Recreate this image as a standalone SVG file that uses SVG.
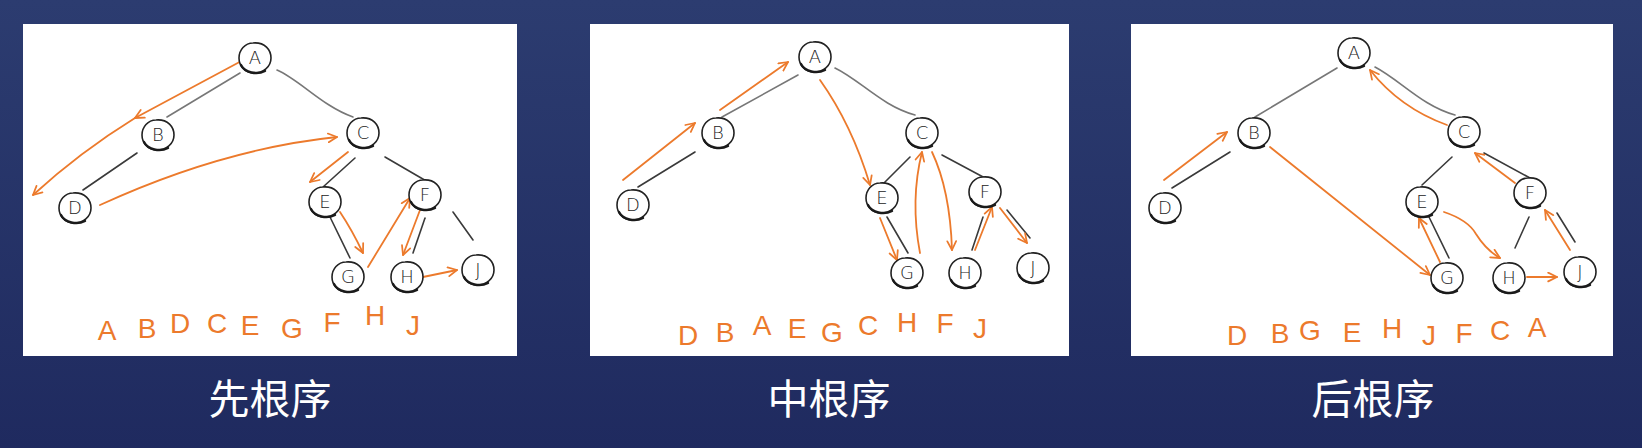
<svg xmlns="http://www.w3.org/2000/svg" width="1642" height="448" viewBox="0 0 1642 448">
<defs>
<linearGradient id="bg" x1="0" y1="0" x2="0" y2="1">
<stop offset="0" stop-color="#2c3c70"/>
<stop offset="1" stop-color="#1f2a5f"/>
</linearGradient>
<marker id="ah" viewBox="0 0 10 10" refX="9" refY="5" markerWidth="11" markerHeight="11" markerUnits="userSpaceOnUse" orient="auto">
<path d="M1,1 L9,5 L1,9" fill="none" stroke="#ec7a2c" stroke-width="1.6" stroke-linecap="round" stroke-linejoin="round"/>
</marker>
<g id="blob">
<path d="M-2,-15 C10,-16 16,-8 16,0 C16,9 8,15 -1,15 C-10,15 -16,8 -16,0 C-16,-8 -10,-15 -2,-15" fill="#fff" stroke="#222" stroke-width="1.6"/>
<path d="M-14,7 C-10,15 2,17 10,13" fill="none" stroke="#1a1a1a" stroke-width="2.4" stroke-linecap="round"/>
</g>
</defs>
<style>
.panel{fill:#fff}
.edge{fill:none;stroke:#3a3a3a;stroke-width:1.6;stroke-linecap:round}
.edge.light{stroke:#777}
.ord{fill:none;stroke:#ec7a2c;stroke-width:1.8;stroke-linecap:round;marker-end:url(#ah)}
.lbl{font-family:"DejaVu Sans","Liberation Sans",sans-serif;font-weight:300;font-size:18px;fill:#222;text-anchor:middle}
.seq{font-family:"Liberation Sans",Arial,sans-serif;font-size:28px;fill:#ec7a2c;text-anchor:middle}
.cap{font-family:"Noto Sans CJK SC","Noto Sans",sans-serif;font-size:41px;fill:#fff;text-anchor:middle}
</style>
<rect width="1642" height="448" fill="url(#bg)"/>
<rect class="panel" x="23" y="24" width="494" height="332"/>
<rect class="panel" x="590" y="24" width="479" height="332"/>
<rect class="panel" x="1131" y="24" width="482" height="332"/>

<!-- Panel 1: pre-order -->
<g id="p1-connectors">
<path class="edge light" d="M240,73 L167,117"/>
<path class="edge light" d="M277,70 C300,80 322,106 353,117"/>
<path class="edge" d="M137,153 L83,190"/>
<path class="edge" d="M355,158 L323,187"/>
<path class="edge" d="M385,157 L428,182"/>
<path class="edge" d="M330,217 L350,258"/>
<path class="edge" d="M425,218 L413,253"/>
<path class="edge" d="M453,212 L473,240"/>
<path class="ord" d="M247,58 L135,118"/>
<path class="ord" d="M135,118 Q80,152 33,195"/>
<path class="ord" d="M100,205 Q222,149 337,137"/>
<path class="ord" d="M348,152 L310,182"/>
<path class="ord" d="M340,212 Q352,230 363,253"/>
<path class="ord" d="M368,267 L410,198"/>
<path class="ord" d="M420,210 L403,255"/>
<path class="ord" d="M423,277 L457,270"/>
</g>
<g id="p1-A"><use href="#blob" transform="translate(255,58)"/><text class="lbl" x="255" y="64">A</text></g>
<g id="p1-B"><use href="#blob" transform="translate(158,135)"/><text class="lbl" x="158" y="141">B</text></g>
<g id="p1-C"><use href="#blob" transform="translate(363,133)"/><text class="lbl" x="363" y="139">C</text></g>
<g id="p1-D"><use href="#blob" transform="translate(75,208)"/><text class="lbl" x="75" y="214">D</text></g>
<g id="p1-E"><use href="#blob" transform="translate(325,202)"/><text class="lbl" x="325" y="208">E</text></g>
<g id="p1-F"><use href="#blob" transform="translate(425,195)"/><text class="lbl" x="425" y="201">F</text></g>
<g id="p1-G"><use href="#blob" transform="translate(348,277)"/><text class="lbl" x="348" y="283">G</text></g>
<g id="p1-H"><use href="#blob" transform="translate(407,277)"/><text class="lbl" x="407" y="283">H</text></g>
<g id="p1-J"><use href="#blob" transform="translate(478,270)"/><text class="lbl" x="478" y="276">J</text></g>
<text class="seq" x="107 127 147 163 180 198 217 233 250 271 292 312 332 353 375 394 413" y="340 340 338 338 333 333 333 333 335 335 338 338 332 332 325 325 335">A B D C E G F H J</text>

<!-- Panel 2: in-order -->
<g id="p2-connectors">
<path class="edge light" d="M798,75 L722,117"/>
<path class="edge light" d="M835,68 C860,80 882,106 915,115"/>
<path class="edge" d="M695,152 L638,187"/>
<path class="edge" d="M910,157 L882,185"/>
<path class="edge" d="M942,155 L985,178"/>
<path class="edge" d="M887,217 L908,253"/>
<path class="edge" d="M983,217 L972,250"/>
<path class="edge" d="M1007,210 L1030,238"/>
<path class="ord" d="M623,180 L695,123"/>
<path class="ord" d="M720,110 L788,62"/>
<path class="ord" d="M820,80 Q852,125 870,185"/>
<path class="ord" d="M880,218 L897,260"/>
<path class="ord" d="M920,253 Q910,200 922,152"/>
<path class="ord" d="M932,152 Q950,190 952,250"/>
<path class="ord" d="M975,250 L992,207"/>
<path class="ord" d="M1000,208 L1027,243"/>
</g>
<g id="p2-A"><use href="#blob" transform="translate(815,57)"/><text class="lbl" x="815" y="63">A</text></g>
<g id="p2-B"><use href="#blob" transform="translate(718,133)"/><text class="lbl" x="718" y="139">B</text></g>
<g id="p2-C"><use href="#blob" transform="translate(922,133)"/><text class="lbl" x="922" y="139">C</text></g>
<g id="p2-D"><use href="#blob" transform="translate(633,205)"/><text class="lbl" x="633" y="211">D</text></g>
<g id="p2-E"><use href="#blob" transform="translate(882,198)"/><text class="lbl" x="882" y="204">E</text></g>
<g id="p2-F"><use href="#blob" transform="translate(985,192)"/><text class="lbl" x="985" y="198">F</text></g>
<g id="p2-G"><use href="#blob" transform="translate(907,273)"/><text class="lbl" x="907" y="279">G</text></g>
<g id="p2-H"><use href="#blob" transform="translate(965,273)"/><text class="lbl" x="965" y="279">H</text></g>
<g id="p2-J"><use href="#blob" transform="translate(1033,268)"/><text class="lbl" x="1033" y="274">J</text></g>
<text class="seq" x="688 706 725 743 762 780 797 815 832 850 868 888 907 926 945 962 980" y="345 345 342 342 335 335 338 338 342 342 335 335 332 332 333 333 338">D B A E G C H F J</text>

<!-- Panel 3: post-order -->
<g id="p3-connectors">
<path class="edge light" d="M1337,68 L1255,117"/>
<path class="edge light" d="M1375,67 C1400,80 1422,106 1455,115"/>
<path class="edge" d="M1230,152 L1172,188"/>
<path class="edge" d="M1452,157 L1422,185"/>
<path class="edge" d="M1484,153 L1530,178"/>
<path class="edge" d="M1429,217 L1449,258"/>
<path class="edge" d="M1529,217 L1515,248"/>
<path class="edge" d="M1557,213 L1575,242"/>
<path class="ord" d="M1164,180 L1227,132"/>
<path class="ord" d="M1270,147 L1430,275"/>
<path class="ord" d="M1440,262 L1419,218"/>
<path class="ord" d="M1444,212 Q1468,220 1476,234 Q1486,250 1500,258"/>
<path class="ord" d="M1527,277 L1557,277"/>
<path class="ord" d="M1570,250 L1545,210"/>
<path class="ord" d="M1515,183 L1475,153"/>
<path class="ord" d="M1447,125 Q1400,108 1370,70"/>
</g>
<g id="p3-A"><use href="#blob" transform="translate(1354,53)"/><text class="lbl" x="1354" y="59">A</text></g>
<g id="p3-B"><use href="#blob" transform="translate(1254,133)"/><text class="lbl" x="1254" y="139">B</text></g>
<g id="p3-C"><use href="#blob" transform="translate(1464,132)"/><text class="lbl" x="1464" y="138">C</text></g>
<g id="p3-D"><use href="#blob" transform="translate(1165,208)"/><text class="lbl" x="1165" y="214">D</text></g>
<g id="p3-E"><use href="#blob" transform="translate(1422,202)"/><text class="lbl" x="1422" y="208">E</text></g>
<g id="p3-F"><use href="#blob" transform="translate(1530,193)"/><text class="lbl" x="1530" y="199">F</text></g>
<g id="p3-G"><use href="#blob" transform="translate(1447,278)"/><text class="lbl" x="1447" y="284">G</text></g>
<g id="p3-H"><use href="#blob" transform="translate(1509,278)"/><text class="lbl" x="1509" y="284">H</text></g>
<g id="p3-J"><use href="#blob" transform="translate(1580,272)"/><text class="lbl" x="1580" y="278">J</text></g>
<text class="seq" x="1237 1258 1280 1295 1310 1331 1352 1372 1392 1410 1429 1446 1464 1482 1500 1518 1537" y="345 345 343 343 340 340 342 342 338 338 345 345 343 343 340 340 337">D B G E H J F C A</text>

<g id="captions">
<text class="cap" x="270" y="414">先根序</text>
<text class="cap" x="829" y="414">中根序</text>
<text class="cap" x="1373" y="414">后根序</text>
</g>
</svg>
